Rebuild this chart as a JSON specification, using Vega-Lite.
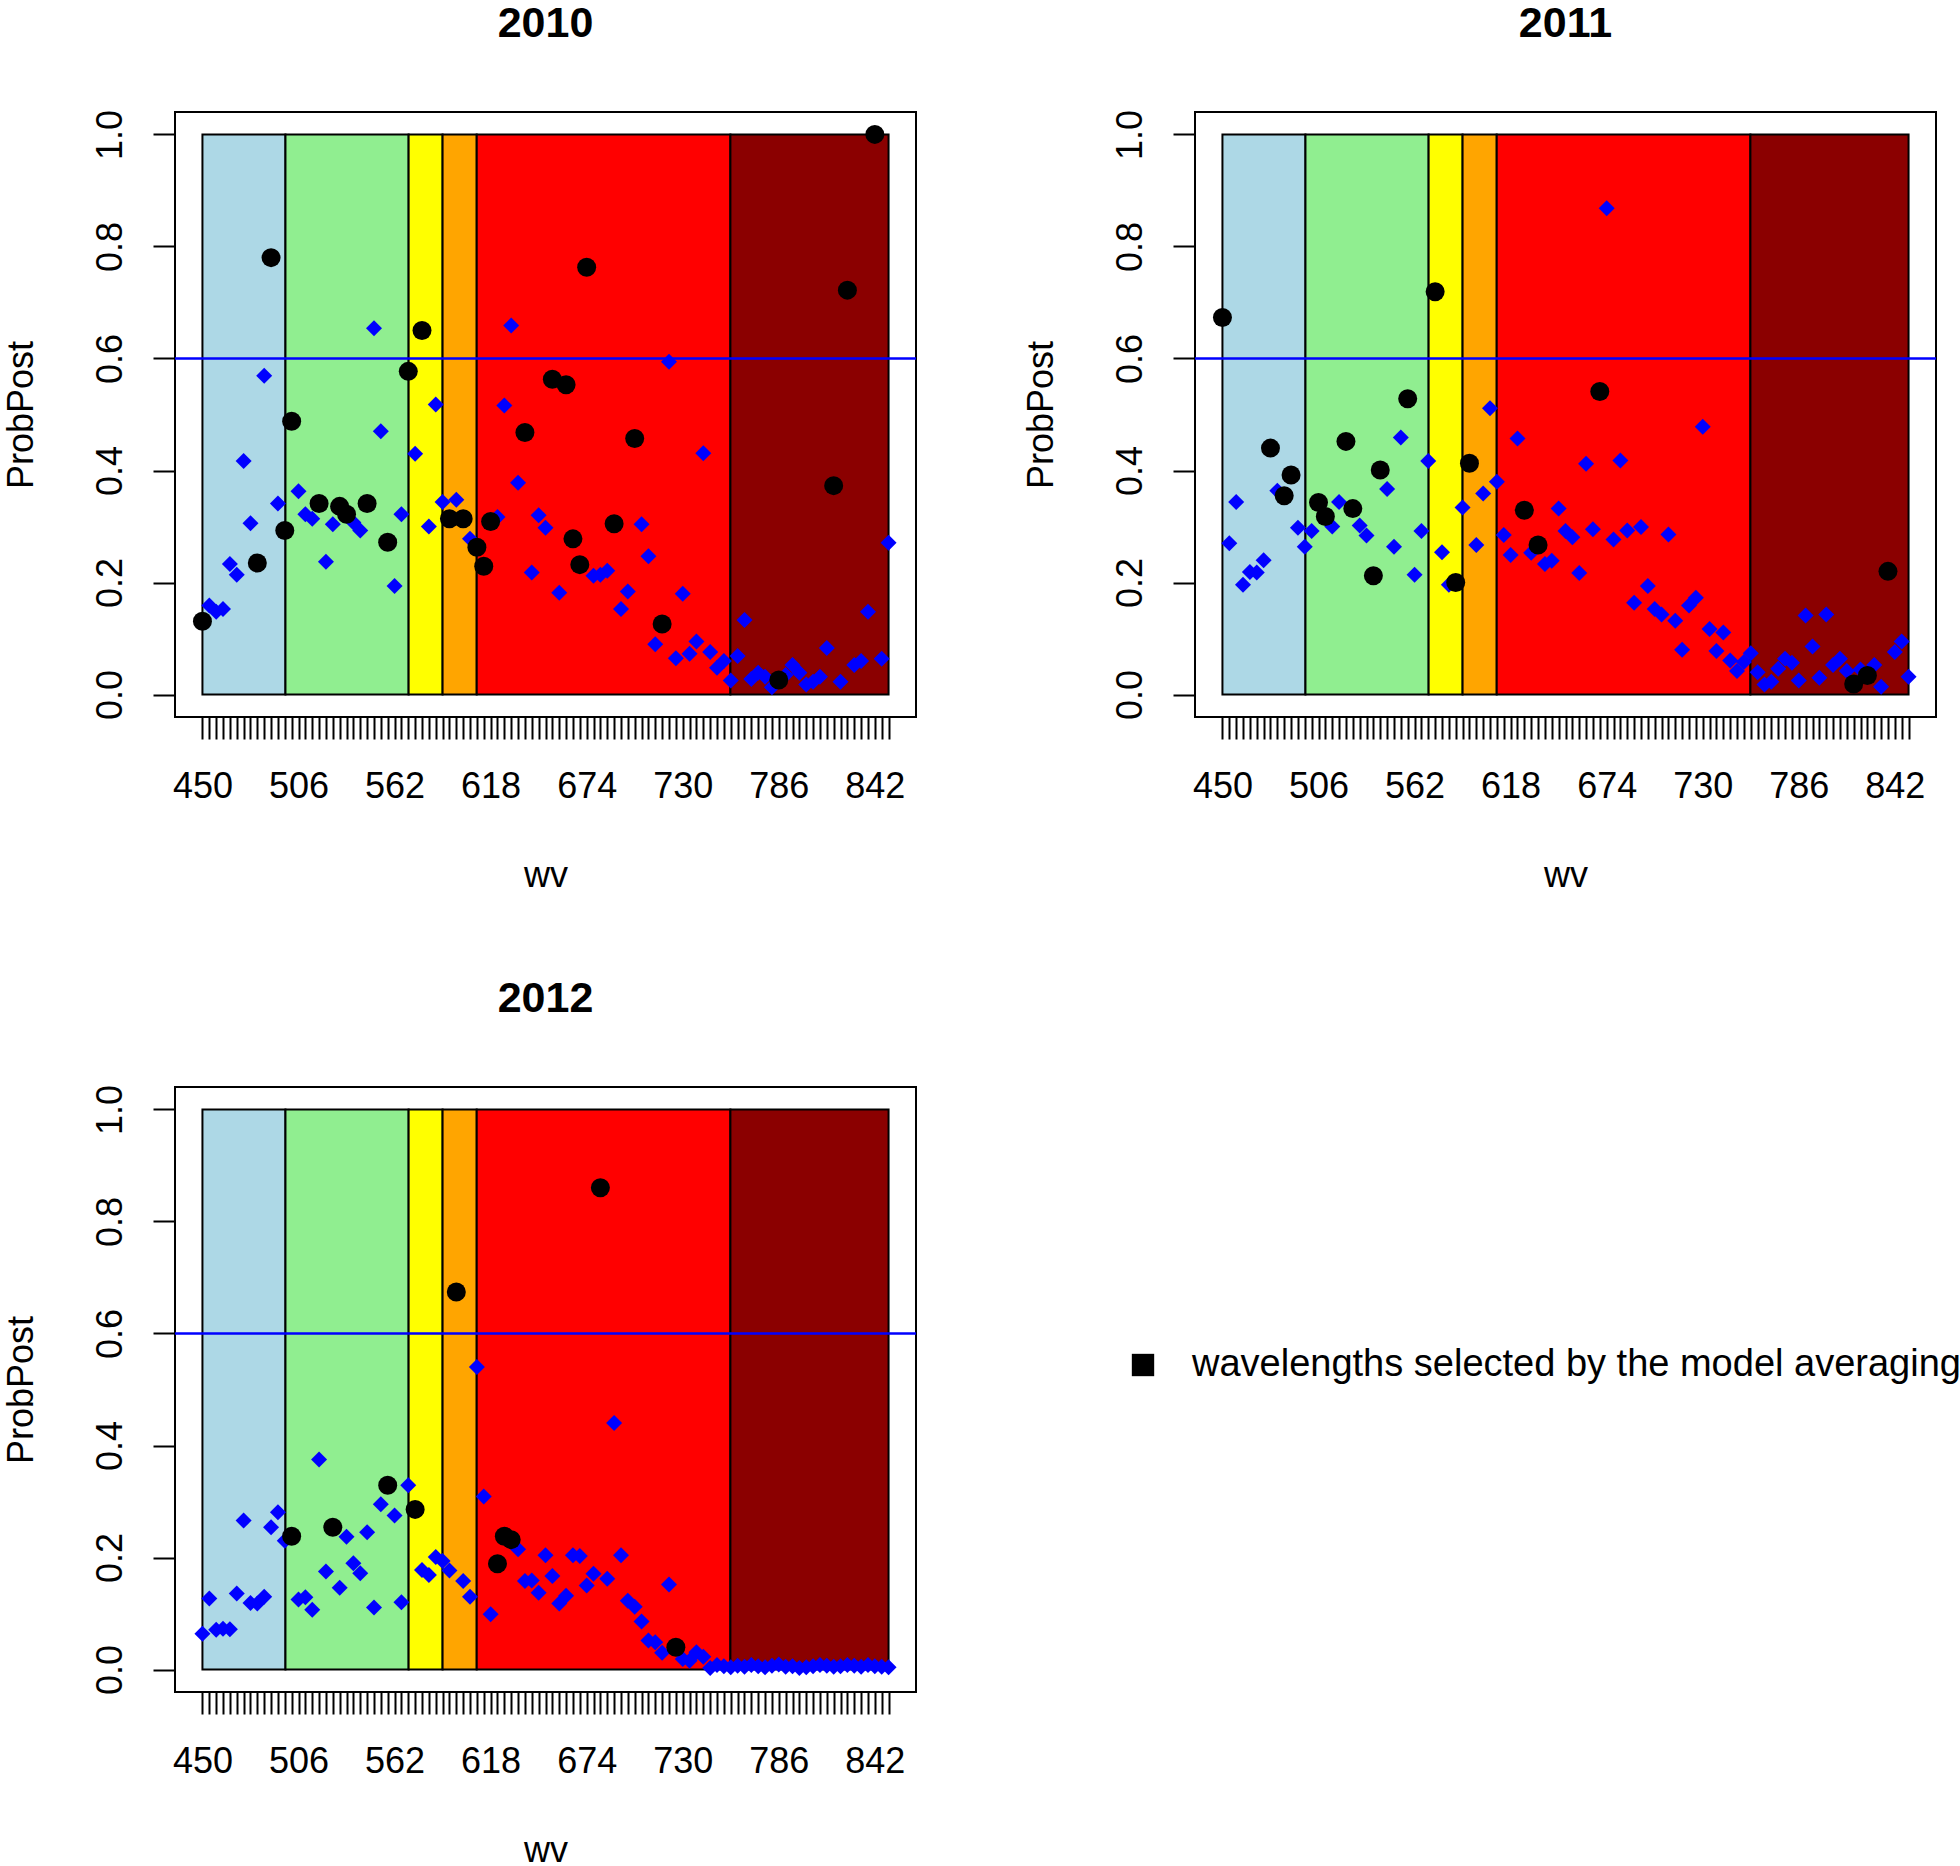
{
  "$schema": "https://vega.github.io/schema/vega-lite/v6.json",
  "background": "white",
  "padding": {"left": 2, "top": 2, "right": 0, "bottom": 0},
  "autosize": {"type": "pad"},
  "bounds": "flush",
  "columns": 2,
  "spacing": {"row": 370, "column": 279},
  "config": {
    "font": "Liberation Sans",
    "view": {"stroke": "black", "strokeWidth": 2},
    "axis": {
      "labelFont": "Liberation Sans", "titleFont": "Liberation Sans",
      "labelColor": "black", "titleColor": "black", "tickColor": "black",
      "grid": false, "domain": false, "tickSize": 22, "tickWidth": 2,
      "labelFontSize": 36, "titleFontSize": 36, "titleFontWeight": "normal"
    },
    "axisX": {
      "labelAngle": 0, "labelBaseline": "top", "labelAlign": "center", "labelPadding": 30,
      "labelOverlap": false, "labelFlush": false, "labelBound": false, "tickCount": 200,
      "labelExpr": "(datum.value - 450) % 56 == 0 ? datum.label : ''",
      "titleY": 169, "titleBaseline": "alphabetic"
    },
    "axisY": {
      "labelAngle": 270, "labelAlign": "center", "labelBaseline": "alphabetic", "labelPadding": 32,
      "labelOverlap": false, "labelFlush": false, "labelBound": false,
      "titleAngle": 270, "titleX": -143, "titleBaseline": "alphabetic", "titleAlign": "center"
    }
  },
  "datasets": {
    "bands": [
      {"band": "blue", "wv": 450, "wv2": 498.4},
      {"band": "green", "wv": 498.4, "wv2": 570.2},
      {"band": "yellow", "wv": 570.2, "wv2": 590},
      {"band": "orange", "wv": 590, "wv2": 609.9},
      {"band": "red", "wv": 609.9, "wv2": 757.8},
      {"band": "darkred", "wv": 757.8, "wv2": 850}
    ],
    "thr": [{"p": 0.6}],
    "pts": [
      {"yr":2010,"wv":450,"p":0.131,"sel":1},{"yr":2010,"wv":454,"p":0.159,"sel":0},{"yr":2010,"wv":458,"p":0.148,"sel":0},{"yr":2010,"wv":462,"p":0.153,"sel":0},
      {"yr":2010,"wv":466,"p":0.233,"sel":0},{"yr":2010,"wv":470,"p":0.214,"sel":0},{"yr":2010,"wv":474,"p":0.417,"sel":0},{"yr":2010,"wv":478,"p":0.306,"sel":0},
      {"yr":2010,"wv":482,"p":0.235,"sel":1},{"yr":2010,"wv":486,"p":0.569,"sel":0},{"yr":2010,"wv":490,"p":0.780,"sel":1},{"yr":2010,"wv":494,"p":0.341,"sel":0},
      {"yr":2010,"wv":498,"p":0.293,"sel":1},{"yr":2010,"wv":502,"p":0.488,"sel":1},{"yr":2010,"wv":506,"p":0.363,"sel":0},{"yr":2010,"wv":510,"p":0.322,"sel":0},
      {"yr":2010,"wv":514,"p":0.314,"sel":0},{"yr":2010,"wv":518,"p":0.341,"sel":1},{"yr":2010,"wv":522,"p":0.237,"sel":0},{"yr":2010,"wv":526,"p":0.304,"sel":0},
      {"yr":2010,"wv":530,"p":0.336,"sel":1},{"yr":2010,"wv":534,"p":0.322,"sel":1},{"yr":2010,"wv":538,"p":0.307,"sel":0},{"yr":2010,"wv":542,"p":0.293,"sel":0},
      {"yr":2010,"wv":546,"p":0.341,"sel":1},{"yr":2010,"wv":550,"p":0.654,"sel":0},{"yr":2010,"wv":554,"p":0.470,"sel":0},{"yr":2010,"wv":558,"p":0.272,"sel":1},
      {"yr":2010,"wv":562,"p":0.194,"sel":0},{"yr":2010,"wv":566,"p":0.322,"sel":0},{"yr":2010,"wv":570,"p":0.577,"sel":1},{"yr":2010,"wv":574,"p":0.430,"sel":0},
      {"yr":2010,"wv":578,"p":0.650,"sel":1},{"yr":2010,"wv":582,"p":0.300,"sel":0},{"yr":2010,"wv":586,"p":0.518,"sel":0},{"yr":2010,"wv":590,"p":0.344,"sel":0},
      {"yr":2010,"wv":594,"p":0.314,"sel":1},{"yr":2010,"wv":598,"p":0.348,"sel":0},{"yr":2010,"wv":602,"p":0.314,"sel":1},{"yr":2010,"wv":606,"p":0.278,"sel":0},
      {"yr":2010,"wv":610,"p":0.263,"sel":1},{"yr":2010,"wv":614,"p":0.229,"sel":1},{"yr":2010,"wv":618,"p":0.309,"sel":1},{"yr":2010,"wv":622,"p":0.317,"sel":0},
      {"yr":2010,"wv":626,"p":0.516,"sel":0},{"yr":2010,"wv":630,"p":0.659,"sel":0},{"yr":2010,"wv":634,"p":0.378,"sel":0},{"yr":2010,"wv":638,"p":0.468,"sel":1},
      {"yr":2010,"wv":642,"p":0.218,"sel":0},{"yr":2010,"wv":646,"p":0.320,"sel":0},{"yr":2010,"wv":650,"p":0.298,"sel":0},{"yr":2010,"wv":654,"p":0.563,"sel":1},
      {"yr":2010,"wv":658,"p":0.182,"sel":0},{"yr":2010,"wv":662,"p":0.553,"sel":1},{"yr":2010,"wv":666,"p":0.278,"sel":1},{"yr":2010,"wv":670,"p":0.232,"sel":1},
      {"yr":2010,"wv":674,"p":0.763,"sel":1},{"yr":2010,"wv":678,"p":0.212,"sel":0},{"yr":2010,"wv":682,"p":0.214,"sel":0},{"yr":2010,"wv":686,"p":0.221,"sel":0},
      {"yr":2010,"wv":690,"p":0.305,"sel":1},{"yr":2010,"wv":694,"p":0.153,"sel":0},{"yr":2010,"wv":698,"p":0.184,"sel":0},{"yr":2010,"wv":702,"p":0.457,"sel":1},
      {"yr":2010,"wv":706,"p":0.304,"sel":0},{"yr":2010,"wv":710,"p":0.247,"sel":0},{"yr":2010,"wv":714,"p":0.090,"sel":0},{"yr":2010,"wv":718,"p":0.126,"sel":1},
      {"yr":2010,"wv":722,"p":0.594,"sel":0},{"yr":2010,"wv":726,"p":0.065,"sel":0},{"yr":2010,"wv":730,"p":0.180,"sel":0},{"yr":2010,"wv":734,"p":0.073,"sel":0},
      {"yr":2010,"wv":738,"p":0.095,"sel":0},{"yr":2010,"wv":742,"p":0.431,"sel":0},{"yr":2010,"wv":746,"p":0.076,"sel":0},{"yr":2010,"wv":750,"p":0.048,"sel":0},
      {"yr":2010,"wv":754,"p":0.060,"sel":0},{"yr":2010,"wv":758,"p":0.025,"sel":0},{"yr":2010,"wv":762,"p":0.069,"sel":0},{"yr":2010,"wv":766,"p":0.133,"sel":0},
      {"yr":2010,"wv":770,"p":0.028,"sel":0},{"yr":2010,"wv":774,"p":0.039,"sel":0},{"yr":2010,"wv":778,"p":0.032,"sel":0},{"yr":2010,"wv":782,"p":0.013,"sel":0},
      {"yr":2010,"wv":786,"p":0.026,"sel":1},{"yr":2010,"wv":790,"p":0.035,"sel":0},{"yr":2010,"wv":794,"p":0.053,"sel":0},{"yr":2010,"wv":798,"p":0.039,"sel":0},
      {"yr":2010,"wv":802,"p":0.018,"sel":0},{"yr":2010,"wv":806,"p":0.023,"sel":0},{"yr":2010,"wv":810,"p":0.032,"sel":0},{"yr":2010,"wv":814,"p":0.083,"sel":0},
      {"yr":2010,"wv":818,"p":0.373,"sel":1},{"yr":2010,"wv":822,"p":0.023,"sel":0},{"yr":2010,"wv":826,"p":0.722,"sel":1},{"yr":2010,"wv":830,"p":0.053,"sel":0},
      {"yr":2010,"wv":834,"p":0.060,"sel":0},{"yr":2010,"wv":838,"p":0.148,"sel":0},{"yr":2010,"wv":842,"p":1.000,"sel":1},{"yr":2010,"wv":846,"p":0.064,"sel":0},
      {"yr":2010,"wv":850,"p":0.271,"sel":0},

      {"yr":2011,"wv":450,"p":0.673,"sel":1},{"yr":2011,"wv":454,"p":0.270,"sel":0},{"yr":2011,"wv":458,"p":0.344,"sel":0},{"yr":2011,"wv":462,"p":0.196,"sel":0},
      {"yr":2011,"wv":466,"p":0.219,"sel":0},{"yr":2011,"wv":470,"p":0.218,"sel":0},{"yr":2011,"wv":474,"p":0.240,"sel":0},{"yr":2011,"wv":478,"p":0.440,"sel":1},
      {"yr":2011,"wv":482,"p":0.364,"sel":0},{"yr":2011,"wv":486,"p":0.355,"sel":1},{"yr":2011,"wv":490,"p":0.392,"sel":1},{"yr":2011,"wv":494,"p":0.298,"sel":0},
      {"yr":2011,"wv":498,"p":0.264,"sel":0},{"yr":2011,"wv":502,"p":0.292,"sel":0},{"yr":2011,"wv":506,"p":0.343,"sel":1},{"yr":2011,"wv":510,"p":0.318,"sel":1},
      {"yr":2011,"wv":514,"p":0.300,"sel":0},{"yr":2011,"wv":518,"p":0.344,"sel":0},{"yr":2011,"wv":522,"p":0.452,"sel":1},{"yr":2011,"wv":526,"p":0.332,"sel":1},
      {"yr":2011,"wv":530,"p":0.302,"sel":0},{"yr":2011,"wv":534,"p":0.284,"sel":0},{"yr":2011,"wv":538,"p":0.212,"sel":1},{"yr":2011,"wv":542,"p":0.401,"sel":1},
      {"yr":2011,"wv":546,"p":0.367,"sel":0},{"yr":2011,"wv":550,"p":0.264,"sel":0},{"yr":2011,"wv":554,"p":0.459,"sel":0},{"yr":2011,"wv":558,"p":0.528,"sel":1},
      {"yr":2011,"wv":562,"p":0.214,"sel":0},{"yr":2011,"wv":566,"p":0.292,"sel":0},{"yr":2011,"wv":570,"p":0.417,"sel":0},{"yr":2011,"wv":574,"p":0.719,"sel":1},
      {"yr":2011,"wv":578,"p":0.254,"sel":0},{"yr":2011,"wv":582,"p":0.196,"sel":0},{"yr":2011,"wv":586,"p":0.200,"sel":1},{"yr":2011,"wv":590,"p":0.334,"sel":0},
      {"yr":2011,"wv":594,"p":0.413,"sel":1},{"yr":2011,"wv":598,"p":0.267,"sel":0},{"yr":2011,"wv":602,"p":0.359,"sel":0},{"yr":2011,"wv":606,"p":0.511,"sel":0},
      {"yr":2011,"wv":610,"p":0.380,"sel":0},{"yr":2011,"wv":614,"p":0.285,"sel":0},{"yr":2011,"wv":618,"p":0.249,"sel":0},{"yr":2011,"wv":622,"p":0.457,"sel":0},
      {"yr":2011,"wv":626,"p":0.329,"sel":1},{"yr":2011,"wv":630,"p":0.253,"sel":0},{"yr":2011,"wv":634,"p":0.267,"sel":1},{"yr":2011,"wv":638,"p":0.233,"sel":0},
      {"yr":2011,"wv":642,"p":0.239,"sel":0},{"yr":2011,"wv":646,"p":0.332,"sel":0},{"yr":2011,"wv":650,"p":0.292,"sel":0},{"yr":2011,"wv":654,"p":0.281,"sel":0},
      {"yr":2011,"wv":658,"p":0.217,"sel":0},{"yr":2011,"wv":662,"p":0.412,"sel":0},{"yr":2011,"wv":666,"p":0.295,"sel":0},{"yr":2011,"wv":670,"p":0.541,"sel":1},
      {"yr":2011,"wv":674,"p":0.868,"sel":0},{"yr":2011,"wv":678,"p":0.277,"sel":0},{"yr":2011,"wv":682,"p":0.418,"sel":0},{"yr":2011,"wv":686,"p":0.293,"sel":0},
      {"yr":2011,"wv":690,"p":0.164,"sel":0},{"yr":2011,"wv":694,"p":0.299,"sel":0},{"yr":2011,"wv":698,"p":0.194,"sel":0},{"yr":2011,"wv":702,"p":0.153,"sel":0},
      {"yr":2011,"wv":706,"p":0.143,"sel":0},{"yr":2011,"wv":710,"p":0.286,"sel":0},{"yr":2011,"wv":714,"p":0.132,"sel":0},{"yr":2011,"wv":718,"p":0.080,"sel":0},
      {"yr":2011,"wv":722,"p":0.159,"sel":0},{"yr":2011,"wv":726,"p":0.173,"sel":0},{"yr":2011,"wv":730,"p":0.478,"sel":0},{"yr":2011,"wv":734,"p":0.117,"sel":0},
      {"yr":2011,"wv":738,"p":0.078,"sel":0},{"yr":2011,"wv":742,"p":0.111,"sel":0},{"yr":2011,"wv":746,"p":0.061,"sel":0},{"yr":2011,"wv":750,"p":0.042,"sel":0},
      {"yr":2011,"wv":754,"p":0.058,"sel":0},{"yr":2011,"wv":758,"p":0.074,"sel":0},{"yr":2011,"wv":762,"p":0.040,"sel":0},{"yr":2011,"wv":766,"p":0.018,"sel":0},
      {"yr":2011,"wv":770,"p":0.023,"sel":0},{"yr":2011,"wv":774,"p":0.046,"sel":0},{"yr":2011,"wv":778,"p":0.064,"sel":0},{"yr":2011,"wv":782,"p":0.057,"sel":0},
      {"yr":2011,"wv":786,"p":0.025,"sel":0},{"yr":2011,"wv":790,"p":0.141,"sel":0},{"yr":2011,"wv":794,"p":0.086,"sel":0},{"yr":2011,"wv":798,"p":0.030,"sel":0},
      {"yr":2011,"wv":802,"p":0.143,"sel":0},{"yr":2011,"wv":806,"p":0.053,"sel":0},{"yr":2011,"wv":810,"p":0.064,"sel":0},{"yr":2011,"wv":814,"p":0.042,"sel":0},
      {"yr":2011,"wv":818,"p":0.019,"sel":1},{"yr":2011,"wv":822,"p":0.045,"sel":0},{"yr":2011,"wv":826,"p":0.034,"sel":1},{"yr":2011,"wv":830,"p":0.053,"sel":0},
      {"yr":2011,"wv":834,"p":0.014,"sel":0},{"yr":2011,"wv":838,"p":0.220,"sel":1},{"yr":2011,"wv":842,"p":0.076,"sel":0},{"yr":2011,"wv":846,"p":0.095,"sel":0},
      {"yr":2011,"wv":850,"p":0.032,"sel":0},

      {"yr":2012,"wv":450,"p":0.064,"sel":0},{"yr":2012,"wv":454,"p":0.127,"sel":0},{"yr":2012,"wv":458,"p":0.071,"sel":0},{"yr":2012,"wv":462,"p":0.073,"sel":0},
      {"yr":2012,"wv":466,"p":0.072,"sel":0},{"yr":2012,"wv":470,"p":0.136,"sel":0},{"yr":2012,"wv":474,"p":0.266,"sel":0},{"yr":2012,"wv":478,"p":0.119,"sel":0},
      {"yr":2012,"wv":482,"p":0.118,"sel":0},{"yr":2012,"wv":486,"p":0.130,"sel":0},{"yr":2012,"wv":490,"p":0.254,"sel":0},{"yr":2012,"wv":494,"p":0.281,"sel":0},
      {"yr":2012,"wv":498,"p":0.230,"sel":0},{"yr":2012,"wv":502,"p":0.238,"sel":1},{"yr":2012,"wv":506,"p":0.125,"sel":0},{"yr":2012,"wv":510,"p":0.129,"sel":0},
      {"yr":2012,"wv":514,"p":0.107,"sel":0},{"yr":2012,"wv":518,"p":0.375,"sel":0},{"yr":2012,"wv":522,"p":0.175,"sel":0},{"yr":2012,"wv":526,"p":0.254,"sel":1},
      {"yr":2012,"wv":530,"p":0.146,"sel":0},{"yr":2012,"wv":534,"p":0.237,"sel":0},{"yr":2012,"wv":538,"p":0.190,"sel":0},{"yr":2012,"wv":542,"p":0.172,"sel":0},
      {"yr":2012,"wv":546,"p":0.245,"sel":0},{"yr":2012,"wv":550,"p":0.111,"sel":0},{"yr":2012,"wv":554,"p":0.295,"sel":0},{"yr":2012,"wv":558,"p":0.329,"sel":1},
      {"yr":2012,"wv":562,"p":0.275,"sel":0},{"yr":2012,"wv":566,"p":0.120,"sel":0},{"yr":2012,"wv":570,"p":0.329,"sel":0},{"yr":2012,"wv":574,"p":0.286,"sel":1},
      {"yr":2012,"wv":578,"p":0.178,"sel":0},{"yr":2012,"wv":582,"p":0.169,"sel":0},{"yr":2012,"wv":586,"p":0.201,"sel":0},{"yr":2012,"wv":590,"p":0.194,"sel":0},
      {"yr":2012,"wv":594,"p":0.177,"sel":0},{"yr":2012,"wv":598,"p":0.674,"sel":1},{"yr":2012,"wv":602,"p":0.158,"sel":0},{"yr":2012,"wv":606,"p":0.130,"sel":0},
      {"yr":2012,"wv":610,"p":0.540,"sel":0},{"yr":2012,"wv":614,"p":0.309,"sel":0},{"yr":2012,"wv":618,"p":0.099,"sel":0},{"yr":2012,"wv":622,"p":0.189,"sel":1},
      {"yr":2012,"wv":626,"p":0.238,"sel":1},{"yr":2012,"wv":630,"p":0.232,"sel":1},{"yr":2012,"wv":634,"p":0.215,"sel":0},{"yr":2012,"wv":638,"p":0.158,"sel":0},
      {"yr":2012,"wv":642,"p":0.159,"sel":0},{"yr":2012,"wv":646,"p":0.137,"sel":0},{"yr":2012,"wv":650,"p":0.204,"sel":0},{"yr":2012,"wv":654,"p":0.167,"sel":0},
      {"yr":2012,"wv":658,"p":0.118,"sel":0},{"yr":2012,"wv":662,"p":0.132,"sel":0},{"yr":2012,"wv":666,"p":0.204,"sel":0},{"yr":2012,"wv":670,"p":0.203,"sel":0},
      {"yr":2012,"wv":674,"p":0.150,"sel":0},{"yr":2012,"wv":678,"p":0.171,"sel":0},{"yr":2012,"wv":682,"p":0.860,"sel":1},{"yr":2012,"wv":686,"p":0.162,"sel":0},
      {"yr":2012,"wv":690,"p":0.440,"sel":0},{"yr":2012,"wv":694,"p":0.204,"sel":0},{"yr":2012,"wv":698,"p":0.123,"sel":0},{"yr":2012,"wv":702,"p":0.112,"sel":0},
      {"yr":2012,"wv":706,"p":0.086,"sel":0},{"yr":2012,"wv":710,"p":0.052,"sel":0},{"yr":2012,"wv":714,"p":0.049,"sel":0},{"yr":2012,"wv":718,"p":0.030,"sel":0},
      {"yr":2012,"wv":722,"p":0.152,"sel":0},{"yr":2012,"wv":726,"p":0.040,"sel":1},{"yr":2012,"wv":730,"p":0.019,"sel":0},{"yr":2012,"wv":734,"p":0.016,"sel":0},
      {"yr":2012,"wv":738,"p":0.031,"sel":0},{"yr":2012,"wv":742,"p":0.023,"sel":0},{"yr":2012,"wv":746,"p":0.003,"sel":0},{"yr":2012,"wv":750,"p":0.008,"sel":0},
      {"yr":2012,"wv":754,"p":0.006,"sel":0},{"yr":2012,"wv":758,"p":0.004,"sel":0},{"yr":2012,"wv":762,"p":0.007,"sel":0},{"yr":2012,"wv":766,"p":0.005,"sel":0},
      {"yr":2012,"wv":770,"p":0.008,"sel":0},{"yr":2012,"wv":774,"p":0.006,"sel":0},{"yr":2012,"wv":778,"p":0.004,"sel":0},{"yr":2012,"wv":782,"p":0.007,"sel":0},
      {"yr":2012,"wv":786,"p":0.009,"sel":0},{"yr":2012,"wv":790,"p":0.005,"sel":0},{"yr":2012,"wv":794,"p":0.006,"sel":0},{"yr":2012,"wv":798,"p":0.003,"sel":0},
      {"yr":2012,"wv":802,"p":0.004,"sel":0},{"yr":2012,"wv":806,"p":0.006,"sel":0},{"yr":2012,"wv":810,"p":0.008,"sel":0},{"yr":2012,"wv":814,"p":0.007,"sel":0},
      {"yr":2012,"wv":818,"p":0.005,"sel":0},{"yr":2012,"wv":822,"p":0.006,"sel":0},{"yr":2012,"wv":826,"p":0.008,"sel":0},{"yr":2012,"wv":830,"p":0.007,"sel":0},
      {"yr":2012,"wv":834,"p":0.005,"sel":0},{"yr":2012,"wv":838,"p":0.008,"sel":0},{"yr":2012,"wv":842,"p":0.006,"sel":0},{"yr":2012,"wv":846,"p":0.005,"sel":0},
      {"yr":2012,"wv":850,"p":0.004,"sel":0}
    ]
  },
  "concat": [
    {
      "width": 741, "height": 605,
      "title": {"text": "2010", "fontSize": 43, "fontWeight": "bold", "font": "Liberation Sans", "color": "black", "offset": 29, "frame": "group", "anchor": "middle", "baseline": "alphabetic"},
      "layer": [
        {"data": {"name": "bands"}, "mark": {"type": "rect", "stroke": "black", "strokeWidth": 2},
         "encoding": {
           "x": {"field": "wv", "type": "quantitative", "title": "wv", "scale": {"domain": [434, 866], "nice": false, "zero": false},
                 "axis": {"format": "d", "tickCount": 200, "values": [450,454,458,462,466,470,474,478,482,486,490,494,498,502,506,510,514,518,522,526,530,534,538,542,546,550,554,558,562,566,570,574,578,582,586,590,594,598,602,606,610,614,618,622,626,630,634,638,642,646,650,654,658,662,666,670,674,678,682,686,690,694,698,702,706,710,714,718,722,726,730,734,738,742,746,750,754,758,762,766,770,774,778,782,786,790,794,798,802,806,810,814,818,822,826,830,834,838,842,846,850]}},
           "x2": {"field": "wv2"},
           "y": {"datum": 0, "type": "quantitative", "title": "ProbPost", "scale": {"domain": [-0.04, 1.04], "nice": false, "zero": false},
                 "axis": {"format": ".1f", "values": [0, 0.2, 0.4, 0.6, 0.8, 1.0]}},
           "y2": {"datum": 1},
           "fill": {"field": "band", "type": "nominal", "legend": null,
                    "scale": {"domain": ["blue", "green", "yellow", "orange", "red", "darkred"], "range": ["#ADD8E6", "#90EE90", "#FFFF00", "#FFA500", "#FF0000", "#8B0000"]}}
         }},
        {"data": {"name": "thr"}, "mark": {"type": "rule", "color": "#0000FF", "strokeWidth": 2.5},
         "encoding": {"y": {"field": "p", "type": "quantitative", "title": "ProbPost"}}},
        {"data": {"name": "pts"}, "transform": [{"filter": "datum.yr == 2010 && datum.sel == 0"}],
         "mark": {"type": "point", "shape": "diamond", "filled": true, "opacity": 1, "size": 256, "color": "#0000FF", "strokeWidth": 0},
         "encoding": {"x": {"field": "wv", "type": "quantitative", "title": "wv"}, "y": {"field": "p", "type": "quantitative", "title": "ProbPost"}}},
        {"data": {"name": "pts"}, "transform": [{"filter": "datum.yr == 2010 && datum.sel == 1"}],
         "mark": {"type": "point", "shape": "circle", "filled": true, "opacity": 1, "size": 361, "strokeWidth": 0},
         "encoding": {"x": {"field": "wv", "type": "quantitative", "title": "wv"}, "y": {"field": "p", "type": "quantitative", "title": "ProbPost"},
           "color": {"datum": "wavelengths selected by the model averaging", "type": "nominal", "scale": {"range": ["#000000"]},
             "legend": {"orient": "none", "legendX": 949, "legendY": 1234, "title": null, "symbolType": "square", "symbolSize": 500, "symbolStrokeWidth": 0, "symbolOpacity": 1, "labelFontSize": 38, "labelFont": "Liberation Sans", "labelColor": "black", "labelOffset": 30, "labelLimit": 2000, "padding": 0}}}}
      ]
    },
    {
      "width": 741, "height": 605,
      "title": {"text": "2011", "fontSize": 43, "fontWeight": "bold", "font": "Liberation Sans", "color": "black", "offset": 29, "frame": "group", "anchor": "middle", "baseline": "alphabetic"},
      "layer": [
        {"data": {"name": "bands"}, "mark": {"type": "rect", "stroke": "black", "strokeWidth": 2},
         "encoding": {
           "x": {"field": "wv", "type": "quantitative", "title": "wv", "scale": {"domain": [434, 866], "nice": false, "zero": false},
                 "axis": {"format": "d", "tickCount": 200, "values": [450,454,458,462,466,470,474,478,482,486,490,494,498,502,506,510,514,518,522,526,530,534,538,542,546,550,554,558,562,566,570,574,578,582,586,590,594,598,602,606,610,614,618,622,626,630,634,638,642,646,650,654,658,662,666,670,674,678,682,686,690,694,698,702,706,710,714,718,722,726,730,734,738,742,746,750,754,758,762,766,770,774,778,782,786,790,794,798,802,806,810,814,818,822,826,830,834,838,842,846,850]}},
           "x2": {"field": "wv2"},
           "y": {"datum": 0, "type": "quantitative", "title": "ProbPost", "scale": {"domain": [-0.04, 1.04], "nice": false, "zero": false},
                 "axis": {"format": ".1f", "values": [0, 0.2, 0.4, 0.6, 0.8, 1.0]}},
           "y2": {"datum": 1},
           "fill": {"field": "band", "type": "nominal", "legend": null,
                    "scale": {"domain": ["blue", "green", "yellow", "orange", "red", "darkred"], "range": ["#ADD8E6", "#90EE90", "#FFFF00", "#FFA500", "#FF0000", "#8B0000"]}}
         }},
        {"data": {"name": "thr"}, "mark": {"type": "rule", "color": "#0000FF", "strokeWidth": 2.5},
         "encoding": {"y": {"field": "p", "type": "quantitative", "title": "ProbPost"}}},
        {"data": {"name": "pts"}, "transform": [{"filter": "datum.yr == 2011 && datum.sel == 0"}],
         "mark": {"type": "point", "shape": "diamond", "filled": true, "opacity": 1, "size": 256, "color": "#0000FF", "strokeWidth": 0},
         "encoding": {"x": {"field": "wv", "type": "quantitative", "title": "wv"}, "y": {"field": "p", "type": "quantitative", "title": "ProbPost"}}},
        {"data": {"name": "pts"}, "transform": [{"filter": "datum.yr == 2011 && datum.sel == 1"}],
         "mark": {"type": "point", "shape": "circle", "filled": true, "opacity": 1, "size": 361, "strokeWidth": 0},
         "encoding": {"x": {"field": "wv", "type": "quantitative", "title": "wv"}, "y": {"field": "p", "type": "quantitative", "title": "ProbPost"},
           "color": {"datum": "wavelengths selected by the model averaging", "type": "nominal", "scale": {"range": ["#000000"]},
             "legend": {"orient": "none", "legendX": 949, "legendY": 1234, "title": null, "symbolType": "square", "symbolSize": 500, "symbolStrokeWidth": 0, "symbolOpacity": 1, "labelFontSize": 38, "labelFont": "Liberation Sans", "labelColor": "black", "labelOffset": 30, "labelLimit": 2000, "padding": 0}}}}
      ]
    },
    {
      "width": 741, "height": 605,
      "title": {"text": "2012", "fontSize": 43, "fontWeight": "bold", "font": "Liberation Sans", "color": "black", "offset": 29, "frame": "group", "anchor": "middle", "baseline": "alphabetic"},
      "layer": [
        {"data": {"name": "bands"}, "mark": {"type": "rect", "stroke": "black", "strokeWidth": 2},
         "encoding": {
           "x": {"field": "wv", "type": "quantitative", "title": "wv", "scale": {"domain": [434, 866], "nice": false, "zero": false},
                 "axis": {"format": "d", "tickCount": 200, "values": [450,454,458,462,466,470,474,478,482,486,490,494,498,502,506,510,514,518,522,526,530,534,538,542,546,550,554,558,562,566,570,574,578,582,586,590,594,598,602,606,610,614,618,622,626,630,634,638,642,646,650,654,658,662,666,670,674,678,682,686,690,694,698,702,706,710,714,718,722,726,730,734,738,742,746,750,754,758,762,766,770,774,778,782,786,790,794,798,802,806,810,814,818,822,826,830,834,838,842,846,850]}},
           "x2": {"field": "wv2"},
           "y": {"datum": 0, "type": "quantitative", "title": "ProbPost", "scale": {"domain": [-0.04, 1.04], "nice": false, "zero": false},
                 "axis": {"format": ".1f", "values": [0, 0.2, 0.4, 0.6, 0.8, 1.0]}},
           "y2": {"datum": 1},
           "fill": {"field": "band", "type": "nominal", "legend": null,
                    "scale": {"domain": ["blue", "green", "yellow", "orange", "red", "darkred"], "range": ["#ADD8E6", "#90EE90", "#FFFF00", "#FFA500", "#FF0000", "#8B0000"]}}
         }},
        {"data": {"name": "thr"}, "mark": {"type": "rule", "color": "#0000FF", "strokeWidth": 2.5},
         "encoding": {"y": {"field": "p", "type": "quantitative", "title": "ProbPost"}}},
        {"data": {"name": "pts"}, "transform": [{"filter": "datum.yr == 2012 && datum.sel == 0"}],
         "mark": {"type": "point", "shape": "diamond", "filled": true, "opacity": 1, "size": 256, "color": "#0000FF", "strokeWidth": 0},
         "encoding": {"x": {"field": "wv", "type": "quantitative", "title": "wv"}, "y": {"field": "p", "type": "quantitative", "title": "ProbPost"}}},
        {"data": {"name": "pts"}, "transform": [{"filter": "datum.yr == 2012 && datum.sel == 1"}],
         "mark": {"type": "point", "shape": "circle", "filled": true, "opacity": 1, "size": 361, "strokeWidth": 0},
         "encoding": {"x": {"field": "wv", "type": "quantitative", "title": "wv"}, "y": {"field": "p", "type": "quantitative", "title": "ProbPost"},
           "color": {"datum": "wavelengths selected by the model averaging", "type": "nominal", "scale": {"range": ["#000000"]},
             "legend": {"orient": "none", "legendX": 949, "legendY": 1234, "title": null, "symbolType": "square", "symbolSize": 500, "symbolStrokeWidth": 0, "symbolOpacity": 1, "labelFontSize": 38, "labelFont": "Liberation Sans", "labelColor": "black", "labelOffset": 30, "labelLimit": 2000, "padding": 0}}}}
      ]
    }
  ]
}
